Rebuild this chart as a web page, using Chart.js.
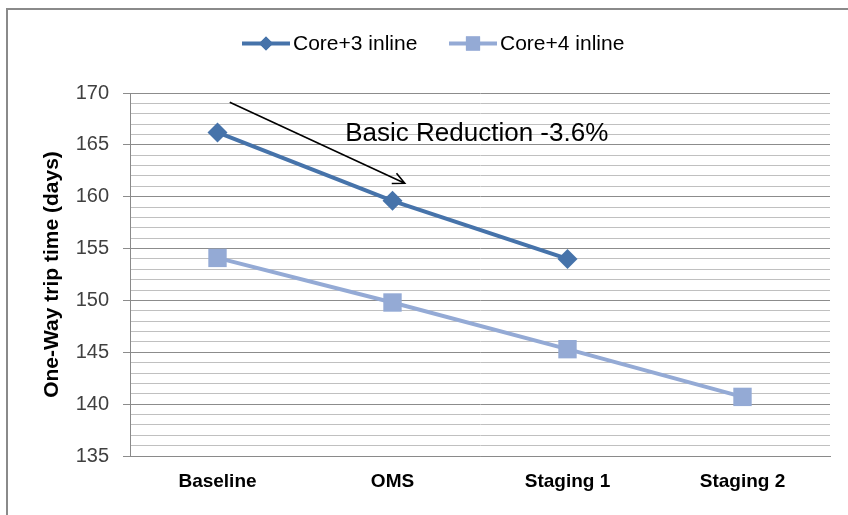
<!DOCTYPE html>
<html>
<head>
<meta charset="utf-8">
<script src="https://cdn.jsdelivr.net/npm/chart.js@4.4.1/dist/chart.umd.min.js"></script>
<style>
  html, body { margin: 0; padding: 0; background: #ffffff; }
  #wrap { width: 848px; height: 515px; position: relative; }
</style>
</head>
<body>
<div id="wrap"><canvas id="c" width="848" height="515"></canvas></div>
<script>
const categories = ['Baseline', 'OMS', 'Staging 1', 'Staging 2'];
const core3Label = 'Core+3 inline';
const core4Label = 'Core+4 inline';
const core3Values = [166.2, 159.6, 154.0, null];
const core4Values = [154.1, 149.8, 145.3, 140.7];
const yMin = 135, yMax = 170, yMajorStep = 5, yMinorStep = 1;
const yTitle = 'One-Way trip time (days)';
const noteText = 'Basic Reduction -3.6%';
const noteArrow = { from: [0.07, 169.1], to: [1.07, 161.3] };
const notePos = [0.73, 165.4];

const C3 = '#4673AA';
const C4 = '#94AAD5';

const overlay = {
  id: 'overlay',
  beforeDraw(chart) {
    const ctx = chart.ctx;
    ctx.save();
    ctx.fillStyle = '#ffffff';
    ctx.fillRect(0, 0, chart.width, chart.height);
    ctx.strokeStyle = '#8a8a8a';
    ctx.lineWidth = 2;
    ctx.beginPath();
    ctx.moveTo(7, chart.height);
    ctx.lineTo(7, 9);
    ctx.lineTo(chart.width, 9);
    ctx.stroke();
    ctx.restore();
  },
  afterDraw(chart) {
    const ctx = chart.ctx;
    const xs = chart.scales.x, ys = chart.scales.y;
    ctx.save();
    // legend
    const items = [
      { ds: chart.data.datasets[0], lineX: 242, r: 7 },
      { ds: chart.data.datasets[1], lineX: 449, r: 10 }
    ];
    const ly = 43.5;
    items.forEach(it => {
      ctx.strokeStyle = it.ds.borderColor;
      ctx.lineWidth = 4;
      ctx.beginPath();
      ctx.moveTo(it.lineX, ly);
      ctx.lineTo(it.lineX + 48, ly);
      ctx.stroke();
      ctx.fillStyle = it.ds.borderColor;
      Chart.helpers.drawPoint(ctx, { pointStyle: it.ds.pointStyle, radius: it.r, rotation: 0, borderWidth: 0 }, it.lineX + 24, ly);
      ctx.fill();
      ctx.fillStyle = '#000000';
      ctx.font = '21px "Liberation Sans", Arial, sans-serif';
      ctx.textBaseline = 'middle';
      ctx.textAlign = 'left';
      ctx.fillText(it.ds.label, it.lineX + 51, ly + 1);
    });
    // arrow annotation
    const x1 = xs.getPixelForValue(noteArrow.from[0]), y1 = ys.getPixelForValue(noteArrow.from[1]);
    const x2 = xs.getPixelForValue(noteArrow.to[0]), y2 = ys.getPixelForValue(noteArrow.to[1]);
    ctx.strokeStyle = '#000000';
    ctx.lineWidth = 1.6;
    ctx.beginPath();
    ctx.moveTo(x1, y1);
    ctx.lineTo(x2, y2);
    const ang = Math.atan2(y2 - y1, x2 - x1);
    const L = 13, spread = 0.45;
    ctx.moveTo(x2 - L * Math.cos(ang - spread), y2 - L * Math.sin(ang - spread));
    ctx.lineTo(x2, y2);
    ctx.lineTo(x2 - L * Math.cos(ang + spread), y2 - L * Math.sin(ang + spread));
    ctx.stroke();
    ctx.fillStyle = '#000000';
    ctx.font = '26px "Liberation Sans", Arial, sans-serif';
    ctx.textBaseline = 'alphabetic';
    ctx.textAlign = 'left';
    ctx.fillText(noteText, xs.getPixelForValue(notePos[0]), ys.getPixelForValue(notePos[1]));
    ctx.restore();
  }
};

new Chart(document.getElementById('c'), {
  type: 'line',
  data: {
    labels: categories,
    datasets: [
      {
        label: core3Label,
        data: core3Values,
        borderColor: C3,
        backgroundColor: C3,
        pointBackgroundColor: C3,
        pointBorderColor: C3,
        borderWidth: 4,
        pointStyle: 'rectRot',
        pointRadius: 10,
        pointBorderWidth: 0,
        tension: 0,
        spanGaps: false
      },
      {
        label: core4Label,
        data: core4Values,
        borderColor: C4,
        backgroundColor: C4,
        pointBackgroundColor: C4,
        pointBorderColor: C4,
        borderWidth: 4,
        pointStyle: 'rect',
        pointRadius: 13,
        pointBorderWidth: 0,
        tension: 0
      }
    ]
  },
  options: {
    responsive: false,
    animation: false,
    devicePixelRatio: 1,
    layout: { padding: { left: 0, right: 18, top: 93, bottom: 0 } },
    plugins: {
      legend: { display: false },
      tooltip: { enabled: false }
    },
    scales: {
      x: {
        type: 'category',
        offset: true,
        grid: { display: false, drawTicks: false },
        border: { display: true, color: '#8a8a8a', width: 1 },
        ticks: {
          padding: 14,
          color: '#000000',
          font: { family: '"Liberation Sans", Arial, sans-serif', size: 19, weight: 'bold' }
        },
        afterFit(s) { s.height = 59; }
      },
      y: {
        min: yMin,
        max: yMax,
        grid: {
          color: c => (c.tick && c.tick.value % yMajorStep === 0) ? '#8c8c8c' : '#c0c0c0',
          tickColor: c => (c.tick && c.tick.value % yMajorStep === 0) ? '#8c8c8c' : 'rgba(0,0,0,0)',
          tickLength: 7,
          lineWidth: 1
        },
        border: { display: true, color: '#8a8a8a', width: 1 },
        ticks: {
          stepSize: yMinorStep,
          autoSkip: false,
          padding: 14,
          color: '#404040',
          font: { family: '"Liberation Sans", Arial, sans-serif', size: 20 },
          callback: v => (v % yMajorStep === 0 ? String(v) : '')
        },
        title: {
          display: true,
          text: yTitle,
          color: '#000000',
          font: { family: '"Liberation Sans", Arial, sans-serif', size: 21, weight: 'bold' },
          padding: { top: 40, bottom: 0 }
        },
        afterFit(s) { s.width = 130; }
      }
    }
  },
  plugins: [overlay]
});
</script>
</body>
</html>
